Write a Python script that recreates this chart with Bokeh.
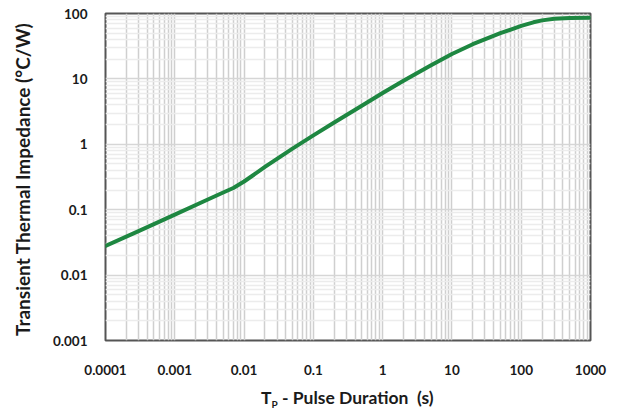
from bokeh.plotting import figure
from bokeh.models import FixedTicker, Div
from bokeh.layouts import column
from bokeh.embed import file_html
from bokeh.resources import INLINE

# ---- data ----
pulse_s = [1e-4, 3e-4, 1e-3, 3e-3, 5e-3, 7e-3, 1e-2, 2e-2, 5e-2, 0.1, 0.2, 0.5,
           1, 2, 5, 10, 20, 50, 100, 150, 200, 300, 500, 1000]
zth = [0.028, 0.047, 0.084, 0.143, 0.183, 0.215, 0.27, 0.45, 0.86, 1.37, 2.16, 3.88,
       6.1, 9.4, 16.2, 24.0, 33.9, 50.0, 64.6, 73.3, 78.5, 83.2, 85.5, 86.1]

x_ticks = [1e-4, 1e-3, 1e-2, 1e-1, 1, 10, 100, 1000]
x_tick_labels = ["0.0001", "0.001", "0.01", "0.1", "1", "10", "100", "1000"]
y_ticks = [1e-3, 1e-2, 1e-1, 1, 10, 100]
y_tick_labels = ["0.001", "0.01", "0.1", "1", "10", "100"]

y_label = "Transient Thermal Impedance  (\u00b0C/W)"
x_label_main = "T"
x_label_sub = "P"
x_label_rest = " - Pulse Duration&nbsp;&nbsp;(s)"

FONT = "Lato"
INK = "#1a1a1a"

def minors(ticks):
    out = []
    for t in ticks[:-1]:
        for k in range(2, 10):
            out.append(t * k)
    return out

p = figure(width=624, height=388, x_axis_type="log", y_axis_type="log",
           x_range=(x_ticks[0], x_ticks[-1]), y_range=(y_ticks[0], y_ticks[-1]),
           output_backend="svg", toolbar_location=None,
           min_border_left=105, min_border_right=34, min_border_top=13, min_border_bottom=48,
           margin=0)
p.background_fill_color = "white"
p.border_fill_color = "white"
p.outline_line_color = "#555555"
p.outline_line_width = 2

p.xaxis.ticker = FixedTicker(ticks=x_ticks, minor_ticks=minors(x_ticks))
p.yaxis.ticker = FixedTicker(ticks=y_ticks, minor_ticks=minors(y_ticks))
p.xaxis.major_label_overrides = dict(zip(x_ticks, x_tick_labels))
p.yaxis.major_label_overrides = dict(zip(y_ticks, y_tick_labels))

for ax in (p.xaxis, p.yaxis):
    ax.axis_line_color = None
    ax.major_tick_line_color = None
    ax.minor_tick_line_color = None
    ax.major_label_text_font = FONT
    ax.major_label_text_font_style = "bold"
    ax.major_label_text_font_size = "13.5px"
    ax.major_label_text_color = INK
p.xaxis.major_label_standoff = 18
p.yaxis.major_label_standoff = 12

p.yaxis.axis_label = y_label
p.yaxis.axis_label_text_font = FONT
p.yaxis.axis_label_text_font_style = "bold"
p.yaxis.axis_label_text_font_size = "19px"
p.yaxis.axis_label_text_color = INK
p.yaxis.axis_label_standoff = 16

p.xgrid.grid_line_color = "#cfcfcf"
p.xgrid.grid_line_width = 1.5
p.xgrid.minor_grid_line_color = "#cfcfcf"
p.xgrid.minor_grid_line_width = 1.5
p.ygrid.grid_line_color = "#d6d6d6"
p.ygrid.grid_line_width = 1.5
p.ygrid.minor_grid_line_color = "#ececec"
p.ygrid.minor_grid_line_width = 1.5

p.line(pulse_s, zth, line_color="#1e8741", line_width=4, line_join="round", line_cap="round")

xlabel = Div(
    text=f'{x_label_main}<sub style="font-size:10px; vertical-align:-4px;">{x_label_sub}</sub>{x_label_rest}',
    width=624 - 261, height=24, margin=(0, 0, 0, 261),
    styles={"font-family": FONT, "font-weight": "bold", "font-size": "17.5px",
            "color": INK, "line-height": "20px", "white-space": "nowrap"},
)

layout = column(p, xlabel, spacing=0, margin=0)
open("out.html", "w").write(file_html(layout, INLINE))
